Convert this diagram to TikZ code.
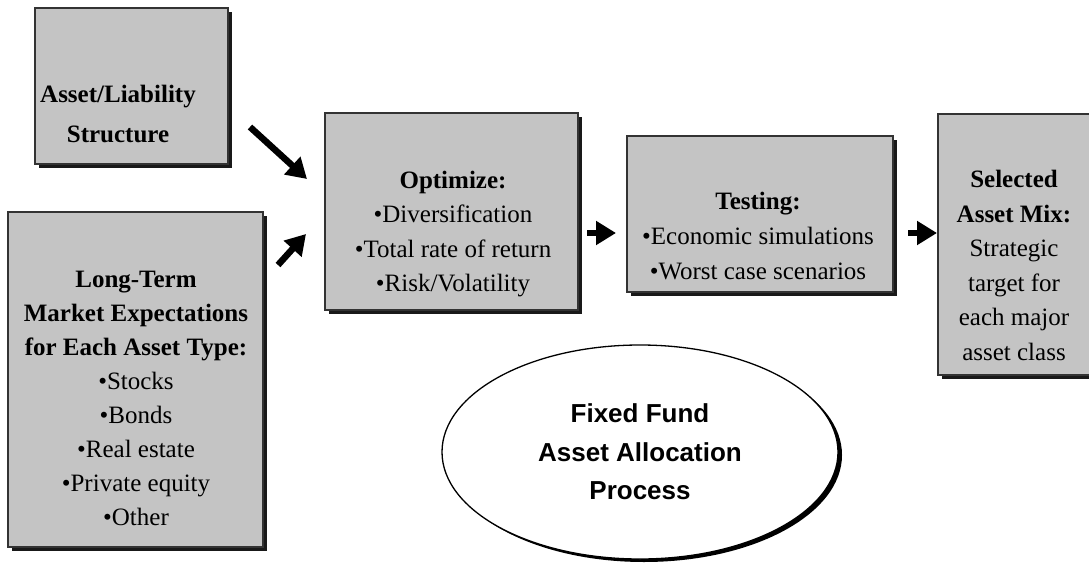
\documentclass[tikz,border=0pt]{standalone}
\usepackage{fontspec}
\setmainfont{Liberation Serif}
\newfontfamily\ovalfont{Liberation Sans}
\usetikzlibrary{arrows.meta,shapes.geometric,shadows}

\begin{document}
\begin{tikzpicture}[x=1pt, y=-1pt,
        stage/.style={rectangle, draw=black!80, line width=1.3pt, fill=black!23, inner sep=0pt,
          drop shadow={shadow xshift=4pt, shadow yshift=-4pt, opacity=1, fill=black!90}},
        body/.style={align=center, inner sep=0pt, font=\fontsize{25}{34.5}\selectfont},
        oval/.style={ellipse, draw=black, line width=1.3pt, fill=white, inner sep=0pt, align=center,
          font=\ovalfont\bfseries\fontsize{26}{38.5}\selectfont,
          drop shadow={shadow xshift=4pt, shadow yshift=-3pt, opacity=1, fill=black}},
        arrow/.style={line width=6.5pt, -{Triangle[length=20pt, width=23pt]}},
      ]
      \useasboundingbox (0,0) rectangle (1089,562);

      % inputs on the left
      \node [stage, minimum width=193pt, minimum height=156pt] (asset) at (131.5, 86) {};
      \node [body, font=\fontsize{25}{40}\selectfont] (assettxt) at (118, 113.5)
        {\textbf{Asset/Liability}\\\textbf{Structure}};

      \node [stage, minimum width=255pt, minimum height=335pt] (market) at (135.5, 379.5) {};
      \node [body, font=\fontsize{25}{34}\selectfont] (markettxt) at (136, 398)
        {\textbf{Long-Term}\\\textbf{Market Expectations}\\\textbf{for Each Asset Type:}\\
         •Stocks\\•Bonds\\•Real estate\\•Private equity\\•Other};

      % process steps
      \node [stage, minimum width=253pt, minimum height=197pt] (optimize) at (451.5, 211.5) {};
      \node [body] (optimizetxt) at (453, 234)
        {\textbf{Optimize:}\\•Diversification\\•Total rate of return\\•Risk/Volatility};

      \node [stage, minimum width=266pt, minimum height=156pt] (testing) at (760, 214) {};
      \node [body, font=\fontsize{25}{35}\selectfont] (testingtxt) at (758, 236.5)
        {\textbf{Testing:}\\•Economic simulations\\•Worst case scenarios};

      \node [stage, minimum width=160pt, minimum height=261pt] (selected) at (1018, 244.5) {};
      \node [body] (selectedtxt) at (1014, 265.5)
        {\textbf{Selected}\\\textbf{Asset Mix:}\\Strategic\\target for\\each major\\asset class};

      % title oval
      \node [oval, minimum width=396pt, minimum height=214pt] (title) at (640, 452)
        {Fixed Fund\\Asset Allocation\\Process};

      % arrow ends
      \coordinate (assetout) at (250, 127);
      \coordinate (marketout) at (278, 265);
      \coordinate (optin1) at (307, 179);
      \coordinate (optin2) at (306, 234);
      \coordinate (optout) at (587, 233);
      \coordinate (testin) at (616, 233);
      \coordinate (testout) at (908, 233);
      \coordinate (selin) at (937, 233);

      \draw [arrow] (assetout) -- (optin1);
      \draw [arrow] (marketout) -- (optin2);
      \draw [arrow] (optout) -- (testin);
      \draw [arrow] (testout) -- (selin);
    \end{tikzpicture}
\end{document}
